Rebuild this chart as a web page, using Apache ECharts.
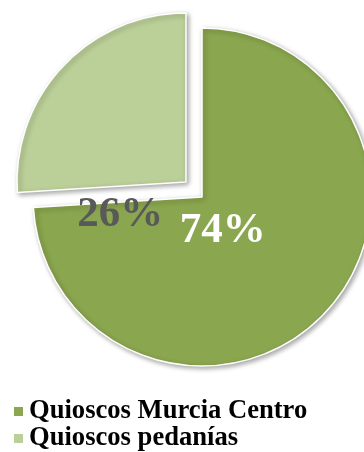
<!DOCTYPE html>
<html>
<head>
<meta charset="utf-8">
<script src="https://cdn.jsdelivr.net/npm/echarts@6/dist/echarts.min.js"></script>
<style>
  html, body { margin: 0; padding: 0; background: #fff; }
  #chart { width: 364px; height: 452px; }
</style>
</head>
<body>
<div id="chart"></div>
<script>
// Share of kiosks by area
const categories = ['Quioscos Murcia Centro', 'Quioscos pedanías'];
const shares = [74, 26];
const sliceColors = ['#8AA64E', '#BBCF98'];
const labelColors = ['#FFFFFF', '#595959'];
// Shift (px) of each percentage text from its default in-slice position
const labelShifts = [[-43, -26], [-2, 93]];

const chart = echarts.init(document.getElementById('chart'), null, { renderer: 'canvas' });

chart.setOption({
  animation: false,
  legend: {
    orient: 'vertical',
    left: 12,
    top: 398,
    padding: 0,
    itemWidth: 11,
    itemHeight: 11,
    itemGap: 0,
    itemTextGap: 7,
    icon: 'rect',
    selectedMode: false,
    data: categories,
    textStyle: {
      fontFamily: '"Liberation Serif", "Times New Roman", serif',
      fontWeight: 'bold',
      fontSize: 26.6,
      lineHeight: 27,
      color: '#000'
    }
  },
  series: [{
    type: 'pie',
    center: [202, 197],
    radius: [0, 169],
    startAngle: 90,
    clockwise: true,
    selectedMode: 'single',
    selectedOffset: 22,
    silent: true,
    emphasis: { disabled: true },
    itemStyle: {
      borderColor: '#ffffff',
      borderWidth: 1.5,
      shadowBlur: 5,
      shadowColor: 'rgba(0,0,0,0.35)',
      shadowOffsetX: 2,
      shadowOffsetY: 2
    },
    label: {
      show: true,
      position: 'inside',
      formatter: '{d}%',
      fontFamily: '"Liberation Serif", "Times New Roman", serif',
      fontWeight: 'bold',
      fontSize: 43,
      align: 'center',
      verticalAlign: 'middle'
    },
    labelLine: { show: false },
    data: categories.map((name, i) => ({
      name: name,
      value: shares[i],
      selected: i === 1,
      itemStyle: { color: sliceColors[i] },
      label: { color: labelColors[i], offset: labelShifts[i] },
      select: { label: { color: labelColors[i], offset: labelShifts[i] } }
    }))
  }]
});
</script>
</body>
</html>
